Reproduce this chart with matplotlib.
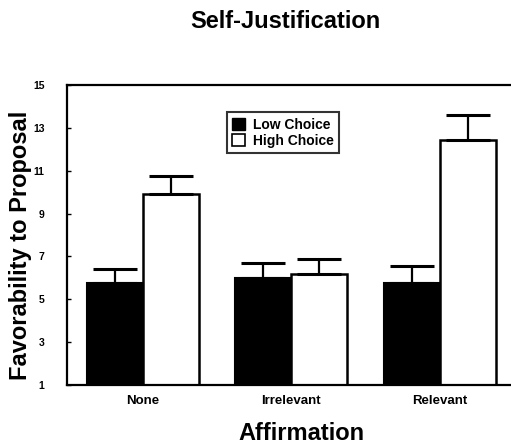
import numpy as np
import matplotlib
matplotlib.use("Agg")
import matplotlib.pyplot as plt
import matplotlib.patches as mpatches

plt.rcParams['font.family'] = ['Liberation Sans', 'DejaVu Sans']
plt.rcParams['font.weight'] = 'bold'

# data
categories = ["None", "Irrelevant", "Relevant"]
low_choice = [5.75, 6.0, 5.75]
low_err = [0.65, 0.7, 0.8]
high_choice = [9.9, 6.2, 12.45]
high_err = [0.85, 0.7, 1.15]
y_ticks = [1, 3, 5, 7, 9, 11, 13, 15]

fig = plt.figure(figsize=(5.11, 4.46), dpi=100)
ax = fig.add_axes([0.1305, 0.137, 0.8695, 0.672])

x = np.arange(len(categories))
width = 0.377

# bars
ax.bar(x - width / 2, low_choice, width, color='black', edgecolor='black', linewidth=1.5, zorder=2)
ax.bar(x + width / 2, high_choice, width, color='white', edgecolor='black', linewidth=1.8, zorder=2)

# upper error bars only
err_style = dict(fmt='none', ecolor='black', elinewidth=1.6, capsize=16, capthick=2.2, zorder=3)
ax.errorbar(x - width / 2, low_choice, yerr=[np.zeros(3), low_err], **err_style)
ax.errorbar(x + width / 2, high_choice, yerr=[np.zeros(3), high_err], **err_style)

# axes
ax.set_xlim(-0.511, 2.48)
ax.set_ylim(1, 15)
ax.set_yticks(y_ticks)
ax.set_yticklabels([str(t) for t in y_ticks], fontsize=7.5, fontweight='bold')
ax.tick_params(axis='y', direction='in', length=3, width=1, pad=16)
ax.set_xticks(x)
ax.set_xticklabels(categories, fontsize=9.5, fontweight='bold')
ax.tick_params(axis='x', length=0, pad=7)
for side in ['left', 'bottom', 'top']:
    ax.spines[side].set_linewidth(1.6)
ax.spines['right'].set_visible(False)

# legend
handles = [mpatches.Patch(facecolor='black', edgecolor='black', label='Low Choice'),
           mpatches.Patch(facecolor='white', edgecolor='black', linewidth=1.2, label='High Choice')]
leg = ax.legend(handles=handles, loc='upper left', bbox_to_anchor=(0.36, 0.91),
                prop={'weight': 'bold', 'size': 10}, frameon=True, fancybox=False,
                handlelength=0.95, handleheight=0.95, handletextpad=0.55, borderpad=0.4,
                labelspacing=0.15, borderaxespad=0)
leg.get_frame().set_edgecolor('black')
leg.get_frame().set_linewidth(1.5)

# titles and labels
fig.text(285 / 511, 1 - 21 / 446, "Self-Justification", ha='center', va='center',
         fontsize=17, fontweight='bold')
fig.text(301 / 511, 1 - 434 / 446, "Affirmation", ha='center', va='center',
         fontsize=17, fontweight='bold')
fig.text(21 / 511, 1 - 245 / 446, "Favorability to Proposal", ha='center', va='center',
         rotation=90, fontsize=17, fontweight='bold')

fig.savefig("out.png", dpi=100)
